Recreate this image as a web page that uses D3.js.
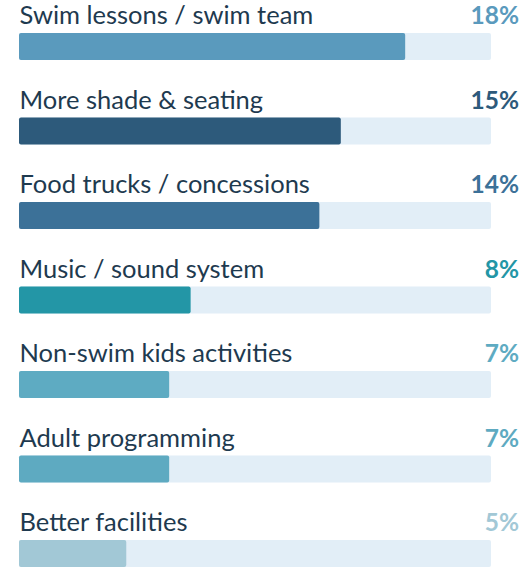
<!DOCTYPE html>
<html>
<head>
<meta charset="utf-8">
<script src="https://cdn.jsdelivr.net/npm/d3@7"></script>
<style>
  html, body { margin: 0; padding: 0; background: #fff; }
  svg { display: block; font-family: Lato, "Open Sans", sans-serif; }
</style>
</head>
<body>
<svg></svg>
<script>
const width = 525, height = 569;

const categories = [
    "Swim lessons / swim team",
    "More shade & seating",
    "Food trucks / concessions",
    "Music / sound system",
    "Non-swim kids activities",
    "Adult programming",
    "Better facilities"
];
const values = [18, 15, 14, 8, 7, 7, 5];
const colors = ["#5a9abd", "#2d5a7b", "#3c7198", "#2396a6", "#5eabc2", "#5eaac1", "#a2c8d6"];

const trackLeft = 19, trackRight = 491, valueRight = 519;
const rowStep = 84.5, barTop = 33, barHeight = 27;

const svg = d3.select("svg")
    .attr("width", width)
    .attr("height", height);

const x = d3.scaleLinear().domain([0, 22]).range([trackLeft, trackRight]);
const y = d3.scaleBand()
    .domain(categories)
    .range([0, rowStep * categories.length])
    .paddingInner(0).paddingOuter(0);

const rows = svg.selectAll(".row")
    .data(categories.map((c, i) => ({ name: c, value: values[i], color: colors[i] })))
    .enter().append("g")
    .attr("class", "row")
    .attr("transform", d => `translate(0,${y(d.name)})`);

rows.append("rect")
    .attr("class", "track")
    .attr("x", x(0))
    .attr("y", barTop)
    .attr("width", x(22) - x(0))
    .attr("height", barHeight)
    .attr("rx", 2)
    .attr("fill", "#e2eef7");

rows.append("rect")
    .attr("class", "bar")
    .attr("x", x(0))
    .attr("y", barTop)
    .attr("width", d => x(d.value) - x(0))
    .attr("height", barHeight)
    .attr("rx", 2)
    .attr("fill", d => d.color);

rows.append("text")
    .attr("x", trackLeft + 0.5)
    .attr("y", 24)
    .attr("font-size", 25.5)
    .attr("fill", "#1e3a4f")
    .text(d => d.name);

rows.append("text")
    .attr("x", valueRight)
    .attr("y", 24)
    .attr("text-anchor", "end")
    .attr("font-size", 24.5)
    .attr("font-weight", 700)
    .attr("fill", d => d.color)
    .text(d => d.value + "%");
</script>
</body>
</html>
